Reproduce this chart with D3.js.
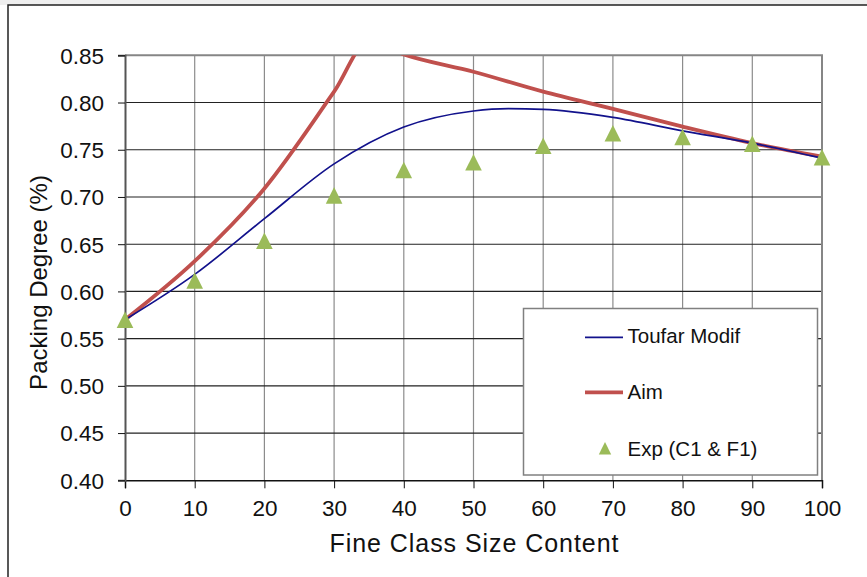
<!DOCTYPE html>
<html>
<head>
<meta charset="utf-8">
<script src="https://cdn.jsdelivr.net/npm/d3@7"></script>
<style>
  html, body { margin: 0; padding: 0; background: #fff; }
  svg { display: block; font-family: "Liberation Sans", Arial, sans-serif; }
</style>
</head>
<body>
<svg id="chart" width="867" height="577"></svg>
<script>
// Fine class content (%) and packing degree values
const xTicks = [0, 10, 20, 30, 40, 50, 60, 70, 80, 90, 100];
const yTicks = [0.40, 0.45, 0.50, 0.55, 0.60, 0.65, 0.70, 0.75, 0.80, 0.85];

const toufarX = [0, 10, 20, 30, 40, 50, 55, 60, 70, 80, 90, 100];
const toufarY = [0.570, 0.618, 0.677, 0.735, 0.774, 0.791, 0.7935, 0.7928, 0.7843, 0.770, 0.757, 0.741];

const aimX = [0, 10, 20, 30, 35, 40, 50, 60, 70, 80, 90, 100];
const aimY = [0.570, 0.632, 0.709, 0.8115, 0.865, 0.851, 0.8326, 0.8115, 0.7932, 0.7744, 0.757, 0.7427];

const expX = [0, 10, 20, 30, 40, 50, 60, 70, 80, 90, 100];
const expY = [0.570, 0.6116, 0.6536, 0.7017, 0.7286, 0.7367, 0.7543, 0.7674, 0.7635, 0.7564, 0.742];

const seriesNames = ["Toufar Modif", "Aim", "Exp (C1 & F1)"];

const svg = d3.select("#chart");
const W = 867, H = 577;
const plot = { left: 125, right: 822, top: 55.3, bottom: 480.3 };

const x = d3.scaleLinear().domain([0, 100]).range([plot.left, plot.right]);
const y = d3.scaleLinear().domain([0.40, 0.85]).range([plot.bottom, plot.top]);

// outer chart frame
svg.append("rect").attr("x", 0).attr("y", 0).attr("width", W).attr("height", 5).attr("fill", "#efefef");
svg.append("rect").attr("x", 8).attr("y", 5).attr("width", W + 20).attr("height", H + 20)
  .attr("fill", "#fff").attr("stroke", "#222").attr("stroke-width", 1.5);

// grid
const grid = svg.append("g");
grid.selectAll("line.v").data(xTicks.slice(1)).join("line")
  .attr("x1", d => x(d)).attr("x2", d => x(d))
  .attr("y1", plot.top).attr("y2", plot.bottom)
  .attr("stroke", "#8c8c8c").attr("stroke-width", 1.2);
grid.selectAll("line.h").data(yTicks.slice(1, -1)).join("line")
  .attr("x1", plot.left).attr("x2", plot.right)
  .attr("y1", d => y(d)).attr("y2", d => y(d))
  .attr("stroke", "#222").attr("stroke-width", 1.1);

// plot area border (top and right)
svg.append("path")
  .attr("d", `M${plot.left},${plot.top}H${plot.right}V${plot.bottom}`)
  .attr("fill", "none").attr("stroke", "#868686").attr("stroke-width", 2);

// axes
const xAxis = svg.append("g").attr("transform", `translate(0,${plot.bottom})`)
  .call(d3.axisBottom(x).tickValues(xTicks).tickSize(8).tickPadding(12).tickFormat(d3.format("d")));
xAxis.select(".domain").attr("stroke", "#111").attr("stroke-width", 1.5);
xAxis.selectAll(".tick line").attr("stroke", "#111");
xAxis.selectAll("text").attr("font-size", 22.5).attr("fill", "#111")
  .attr("font-family", "Liberation Sans, Arial, sans-serif");

const yAxis = svg.append("g").attr("transform", `translate(${plot.left},0)`)
  .call(d3.axisLeft(y).tickValues(yTicks).tickSize(7).tickPadding(14).tickFormat(d3.format(".2f")));
yAxis.select(".domain").attr("stroke", "#555").attr("stroke-width", 2);
yAxis.selectAll(".tick line").attr("stroke", "#111");
yAxis.selectAll("text").attr("font-size", 22.5).attr("fill", "#111").attr("dy", "0.35em")
  .attr("font-family", "Liberation Sans, Arial, sans-serif");

// axis titles
svg.append("text").attr("x", (plot.left + plot.right) / 2 + 0.5).attr("y", 551.5)
  .attr("text-anchor", "middle").attr("font-size", 25).attr("fill", "#111")
  .attr("textLength", 289).attr("lengthAdjust", "spacing")
  .text("Fine Class Size Content");
svg.append("text").attr("transform", "translate(46.5,282.5) rotate(-90)")
  .attr("text-anchor", "middle").attr("font-size", 24).attr("fill", "#111")
  .text("Packing Degree (%)");

// series
svg.append("clipPath").attr("id", "plotClip").append("rect")
  .attr("x", plot.left).attr("y", plot.top)
  .attr("width", plot.right - plot.left).attr("height", plot.bottom - plot.top);

const line = d3.line().x(d => x(d[0])).y(d => y(d[1])).curve(d3.curveMonotoneX);
const series = svg.append("g").attr("clip-path", "url(#plotClip)");

series.append("path").datum(aimX.map((v, i) => [v, aimY[i]]))
  .attr("d", line).attr("fill", "none").attr("stroke", "#C0504D").attr("stroke-width", 3.8);
series.append("path").datum(toufarX.map((v, i) => [v, toufarY[i]]))
  .attr("d", line).attr("fill", "none").attr("stroke", "#12128C").attr("stroke-width", 1.7);

const tri = s => `M0,${-s}L${s},${s}L${-s},${s}Z`;
svg.append("g").selectAll("path").data(expX.map((v, i) => [v, expY[i]])).join("path")
  .attr("transform", d => `translate(${x(d[0])},${y(d[1])})`)
  .attr("d", tri(8.3)).attr("fill", "#9BBB59");

// legend
const lg = svg.append("g");
lg.append("rect").attr("x", 523.5).attr("y", 308.5).attr("width", 294).attr("height", 166.5)
  .attr("fill", "#fff").attr("stroke", "#808080").attr("stroke-width", 1.5);
lg.append("line").attr("x1", 585).attr("x2", 623).attr("y1", 337.3).attr("y2", 337.3)
  .attr("stroke", "#12128C").attr("stroke-width", 1.7);
lg.append("line").attr("x1", 585).attr("x2", 623).attr("y1", 392.3).attr("y2", 392.3)
  .attr("stroke", "#C0504D").attr("stroke-width", 3.8);
lg.append("path").attr("transform", "translate(605,448.3)").attr("d", tri(6.2)).attr("fill", "#9BBB59");
const legendY = [343.3, 399, 455.7];
lg.selectAll("text").data(seriesNames).join("text")
  .attr("x", 627.5).attr("y", (d, i) => legendY[i])
  .attr("font-size", 20.5).attr("fill", "#111").text(d => d);
</script>
</body>
</html>
